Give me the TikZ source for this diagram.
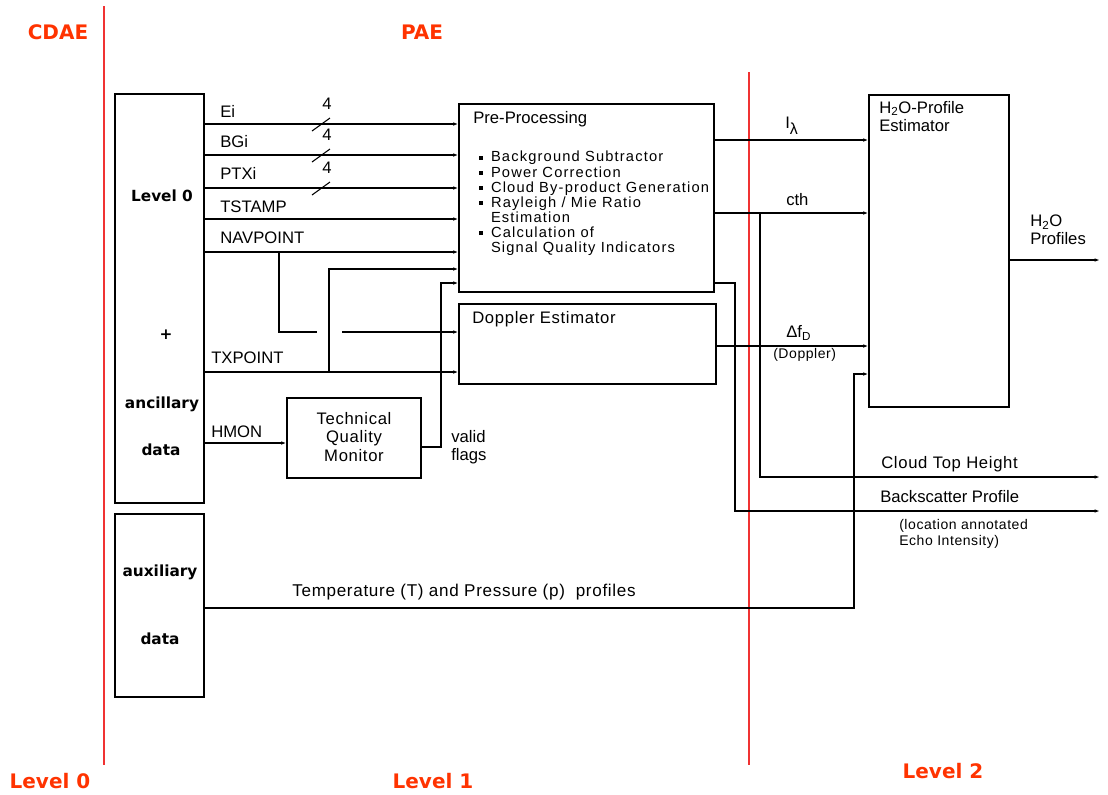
\documentclass[tikz,border=0pt]{standalone}
\usepackage{fontspec}
\setmainfont{Liberation Sans}
\newfontfamily\spf{Liberation Sans}[LetterSpace=4]
\newfontfamily\spfb{Liberation Sans}[LetterSpace=8]
\newfontfamily\cmf{DejaVu Sans}
\usetikzlibrary{arrows.meta,fit}
\definecolor{lred}{RGB}{255,51,0}
\definecolor{rline}{RGB}{240,50,50}
\newcommand\sqb{\rule[0.3ex]{2.8pt}{2.8pt}}
\begin{document}
\begin{tikzpicture}[x=0.75pt,y=-0.75pt,
  box/.style={draw, line width=0.8pt, inner sep=0pt},
  ln/.style={line width=0.8pt},
  arr/.style={ln, -{Latex[length=4pt,width=2.6pt]}},
  lbl/.style={font=\fontsize{12.5}{14}\selectfont, inner sep=0pt},
  small/.style={font=\spf\fontsize{10.5}{12}\selectfont, inner sep=0pt},
  bl/.style={font=\cmf\bfseries\fontsize{11.5}{13}\selectfont, inner sep=0pt},
  rl/.style={font=\cmf\bfseries\fontsize{15}{17}\selectfont, text=lred, inner sep=0pt},
  redline/.style={draw=rline, line width=0.9pt}]
\useasboundingbox (0,0) rectangle (1108,794);

% red separators and titles
\coordinate (r1t) at (104,6);   \coordinate (r1b) at (104,765);
\coordinate (r2t) at (749,72);  \coordinate (r2b) at (749,765);
\draw[redline] (r1t) -- (r1b);
\draw[redline] (r2t) -- (r2b);
\node[rl] (cdae) at (58,32) {CDAE};
\node[rl] (pae) at (422,32) {PAE};
\node[rl] (lv0) at (50,781) {Level 0};
\node[rl] (lv1) at (433,781) {Level 1};
\node[rl] (lv2) at (943,771) {Level 2};

% boxes
\node[box, fit={(115,94) (204,503)}] (l0) {};
\node[box, fit={(115,514) (204,697)}] (aux) {};
\node[box, fit={(459,104) (714,292)}] (pp) {};
\node[box, fit={(459,304) (716,384)}] (dop) {};
\node[box, fit={(287,398) (421,478)}] (tqm) {};
\node[box, fit={(869,95) (1009,407)}] (h2o) {};

% box texts
\node[bl] (t1) at (162,196) {Level 0};
\node[bl] (t2) at (166,335) {+};
\node[bl] (t3) at (162,404) {ancillary};
\node[bl] (t4) at (161,450) {data};
\node[bl] (t5) at (160,572) {auxiliary};
\node[bl] (t6) at (160,639) {data};
\node[lbl, anchor=west] (ppt) at (473,119) {Pre-Processing};
\node[anchor=north west, inner sep=0pt, font=\spfb\fontsize{11}{11.25}\selectfont] (bul) at (479,151)
 {\begin{tabular}{@{}l@{\hspace{6pt}}l@{}}
  \sqb & Background Subtractor\\
  \sqb & Power Correction\\
  \sqb & Cloud By-product Generation\\
  \sqb & Rayleigh / Mie Ratio\\
       & Estimation\\
  \sqb & Calculation of\\
       & Signal Quality Indicators
  \end{tabular}};
\node[lbl, anchor=west] (dopt) at (472,319) {\spf Doppler Estimator};
\node[lbl, align=center, font=\spf\fontsize{12.5}{13.9}\selectfont] (tqmt) at (354,437) {Technical\\Quality\\Monitor};
\node[lbl, anchor=north west, align=left, font=\fontsize{12.5}{13.5}\selectfont] (h2ot) at (879,101) {H\textsubscript{2}O-Profile\\Estimator};

% input labels
\node[lbl, anchor=west] (lei) at (220,111) {Ei};
\node[lbl, anchor=west] (lbg) at (220,142) {BGi};
\node[lbl, anchor=west] (lpt) at (220,173) {PTXi};
\node[lbl, anchor=west] (lts) at (220,207) {TSTAMP};
\node[lbl, anchor=west] (lnav) at (220,238) {NAVPOINT};
\node[lbl, anchor=west] (ltx) at (211,358) {TXPOINT};
\node[lbl, anchor=west] (lhm) at (211,432) {HMON};
\node[lbl] (n1) at (327,104) {4};
\node[lbl] (n2) at (327,135) {4};
\node[lbl] (n3) at (327,168) {4};
\node[lbl, anchor=west, align=left, font=\fontsize{12.5}{13.5}\selectfont] (vf) at (451,447) {valid\\flags};

% input connectors
\draw[arr] (l0.east |- 0,124) -- (pp.west |- 0,124);
\draw[arr] (l0.east |- 0,155) -- (pp.west |- 0,155);
\draw[arr] (l0.east |- 0,188) -- (pp.west |- 0,188);
\draw[arr] (l0.east |- 0,219) -- (pp.west |- 0,219);
\draw[arr] (l0.east |- 0,252) -- (pp.west |- 0,252);
\foreach \yy in {124,155,188} \draw[ln] (312,\yy+7) -- (330,\yy-6);

% NAVPOINT branch to Doppler (with crossing gap)
\coordinate (nb) at (279,252);
\coordinate (ng1) at (317,332);
\coordinate (ng2) at (342,332);
\draw[ln] (nb) |- (ng1);
\draw[arr] (ng2) -- (dop.west |- ng2);

% TXPOINT
\coordinate (txb) at (329,372);
\draw[arr] (l0.east |- 0,372) -- (dop.west |- 0,372);
\draw[arr] (txb) |- (pp.west |- 0,269);

% HMON and valid flags
\draw[arr] (l0.east |- 0,443) -- (tqm.west |- 0,443);
\coordinate (vfc) at (441,447);
\draw[arr] (tqm.east |- vfc) -- (vfc) |- (pp.west |- 0,283);

% outputs
\node[lbl, anchor=west] (lil) at (785,126) {I\textsubscript{\large λ}};
\node[lbl, anchor=west] (lcth) at (786,200) {cth};
\node[lbl, anchor=west] (ldf) at (786,333) {Δf\textsubscript{D}};
\node[anchor=west, small] (ldop) at (773,355) {(Doppler)};
\node[lbl, anchor=west] (lcloud) at (881,464) {\spf Cloud Top Height};
\node[lbl, anchor=west] (lback) at (880,497) {Backscatter Profile};
\node[small, anchor=north west, align=left] (lloc) at (899,519) {(location annotated\\Echo Intensity)};
\node[lbl, anchor=west, align=left, font=\fontsize{12.5}{13.5}\selectfont] (lh2o) at (1030,230) {H\textsubscript{2}O\\Profiles};
\node[lbl, font=\spf\fontsize{12.8}{14}\selectfont] (ltp) at (464,592) {Temperature (T) and Pressure (p)\ \ profiles};

\draw[arr] (pp.east |- 0,140) -- (h2o.west |- 0,140);
\draw[arr] (pp.east |- 0,213) -- (h2o.west |- 0,213);
\coordinate (cthb) at (760,213);
\coordinate (ecth) at (1100,477);
\draw[arr] (cthb) |- (ecth);
\coordinate (bsc) at (735,511);
\coordinate (ebs) at (1100,511);
\draw[arr] (pp.east |- 0,283) -| (bsc) -- (ebs);
\draw[arr] (dop.east |- 0,346) -- (h2o.west |- 0,346);
\coordinate (tpc) at (854,374);
\draw[arr] (aux.east |- 0,608) -| (tpc) -- (h2o.west |- tpc);
\coordinate (eh2o) at (1100,260);
\draw[arr] (h2o.east |- eh2o) -- (eh2o);
\end{tikzpicture}
\end{document}
